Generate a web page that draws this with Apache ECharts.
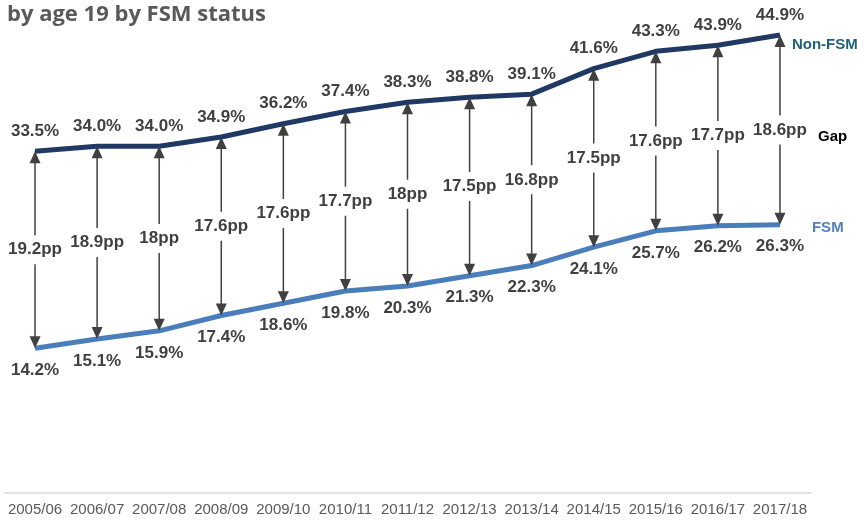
<!DOCTYPE html>
<html>
<head>
<meta charset="utf-8">
<script src="https://cdn.jsdelivr.net/npm/echarts@6/dist/echarts.min.js"></script>
<style>
body { margin: 0px; background: #fff; }
#main1 { width: 857px; height: 520px; }
</style>
</head>
<body>
<div id="main1"></div>
<script>
var years = ['2005/06', '2006/07', '2007/08', '2008/09', '2009/10', '2010/11', '2011/12',
	'2012/13', '2013/14', '2014/15', '2015/16', '2016/17', '2017/18'];
var nonFsm = [33.5, 34.0, 34.0, 34.9, 36.2, 37.4, 38.3, 38.8, 39.1, 41.6, 43.3, 43.9, 44.9];
var fsm = [14.2, 15.1, 15.9, 17.4, 18.6, 19.8, 20.3, 21.3, 22.3, 24.1, 25.7, 26.2, 26.3];
var gapText = ['19.2pp', '18.9pp', '18pp', '17.6pp', '17.6pp', '17.7pp', '18pp',
	'17.5pp', '16.8pp', '17.5pp', '17.6pp', '17.7pp', '18.6pp'];

var gapData = [];
for (var i = 0; i < years.length; i++) {
	gapData.push([i, nonFsm[i], fsm[i], gapText[i]]);
}

var myChart = echarts.init(document.getElementById('main1'));

function renderGap(params, api) {
	var top = api.coord([api.value(0), api.value(1)]);
	var bot = api.coord([api.value(0), api.value(2)]);
	var x = top[0];
	var ah = 12, aw = 5.5;
	var col = '#404040';
	var kids = [
		{ type: 'line', shape: { x1: x, y1: top[1] + ah - 1, x2: x, y2: bot[1] - ah + 1 },
			style: { stroke: col, lineWidth: 1.5 } },
		{ type: 'polygon', shape: { points: [[x, top[1]], [x - aw, top[1] + ah], [x + aw, top[1] + ah]] },
			style: { fill: col } },
		{ type: 'polygon', shape: { points: [[x, bot[1]], [x - aw, bot[1] - ah], [x + aw, bot[1] - ah]] },
			style: { fill: col } },
		{ type: 'text', x: x, y: (top[1] + bot[1]) / 2,
			style: { text: api.value(3), align: 'center', verticalAlign: 'middle',
				font: 'bold 17px "Liberation Sans", Arial, sans-serif', fill: '#404040',
				backgroundColor: '#fff', padding: [6, 1] } }
	];
	if (params.dataIndex === years.length - 1) {
		// series name for the arrows, beside the last one
		kids.push({ type: 'text', x: x + 38, y: (top[1] + bot[1]) / 2 + 7,
			style: { text: 'Gap', align: 'left', verticalAlign: 'middle',
				font: 'bold 15px "Liberation Sans", Arial, sans-serif', fill: '#000' } });
	}
	return { type: 'group', children: kids };
}

var lblFont = { fontFamily: '"Liberation Sans", Arial, sans-serif', fontWeight: 'bold', fontSize: 17, color: '#404040' };
function pct(p) { return p.value.toFixed(1) + '%'; }

var option = {
	animation: false,
	title: {
		text: 'by age 19 by FSM status',
		left: 2,
		top: -1,
		textStyle: { fontFamily: '"Open Sans", sans-serif', fontWeight: 'bold', fontSize: 22, color: '#595959' }
	},
	grid: { left: 4, right: 46, top: 34, bottom: 27 },
	xAxis: {
		type: 'category',
		data: years,
		axisLine: { lineStyle: { color: '#d9d9d9', width: 1.5 } },
		axisTick: { show: false },
		axisLabel: { color: '#595959', fontSize: 15, fontFamily: '"Liberation Sans", Arial, sans-serif', margin: 9, interval: 0 }
	},
	yAxis: {
		type: 'value', min: 0, max: 45,
		show: false,
		splitLine: { show: false }
	},
	series: [
		{
			name: 'Non-FSM', type: 'line', data: nonFsm, z: 2,
			symbol: 'circle', symbolSize: 1, showSymbol: true,
			itemStyle: { color: '#203864' },
			lineStyle: { color: '#203864', width: 5 },
			label: Object.assign({ show: true, position: 'top', distance: 11, formatter: pct }, lblFont),
			endLabel: { show: true, formatter: 'Non-FSM', color: '#1f5f7a', fontWeight: 'bold', fontSize: 15,
				fontFamily: '"Liberation Sans", Arial, sans-serif', offset: [4, 10] }
		},
		{
			name: 'FSM', type: 'line', data: fsm, z: 2,
			symbol: 'circle', symbolSize: 1, showSymbol: true,
			itemStyle: { color: '#4a7ebb' },
			lineStyle: { color: '#4a7ebb', width: 5 },
			label: Object.assign({ show: true, position: 'bottom', distance: 13, formatter: pct }, lblFont),
			endLabel: { show: true, formatter: 'FSM', color: '#4f81bd', fontWeight: 'bold', fontSize: 15,
				fontFamily: '"Liberation Sans", Arial, sans-serif', offset: [24, 3] }
		},
		{
			type: 'custom', z: 3,
			renderItem: renderGap,
			encode: { x: 0, y: [1, 2] },
			data: gapData
		}
	]
};

myChart.setOption(option);
</script>
</body>
</html>
